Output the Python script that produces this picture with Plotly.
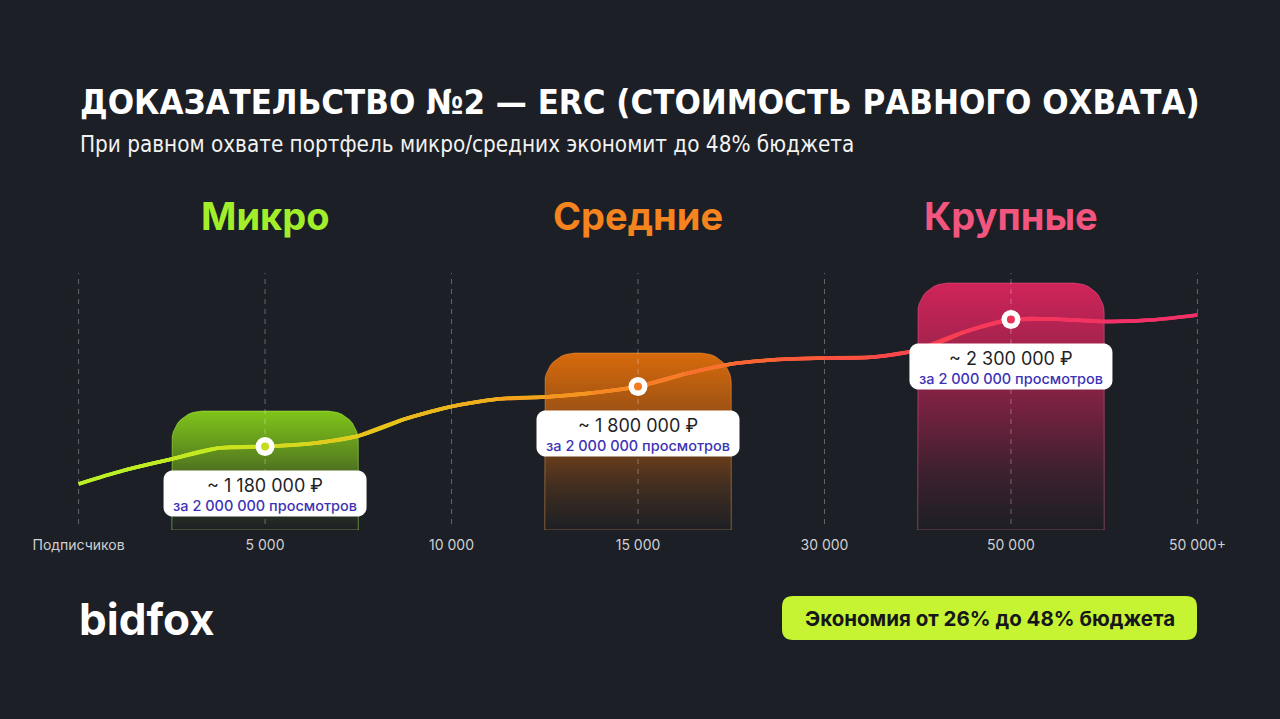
import math
import plotly.graph_objects as go

# ---------------- data ----------------
categories = ["Подписчиков", "5 000", "10 000", "15 000", "30 000", "50 000", "50 000+"]
cat_pos = [0, 1, 2, 3, 4, 5, 6]

# smooth cost curve, sampled at quarter steps between categories (relative level units)
line_x = [0, 0.25, 0.5, 0.75, 1, 1.25, 1.5, 1.75, 2, 2.25, 2.5, 2.75, 3,
          3.25, 3.5, 3.75, 4, 4.25, 4.5, 4.75, 5, 5.25, 5.5, 5.75, 6]
line_y = [46, 60, 71, 82, 83.5, 86.5, 94, 111, 123.5, 131, 133, 137, 143.5,
          156, 166, 170.5, 172, 172.7, 180, 198, 210.5, 210.7, 208.5, 210, 215]

groups = ["Микро", "Средние", "Крупные"]
group_x = [1, 3, 5]
group_level = [83.5, 143.5, 210.5]      # marker level on the curve
bar_top = [119, 177, 247]               # top of each highlighted column
cost_text = ["~ 1 180 000 ₽", "~ 1 800 000 ₽", "~ 2 300 000 ₽"]
views_text = ["за 2 000 000 просмотров"] * 3

title = "ДОКАЗАТЕЛЬСТВО №2 — ERC (СТОИМОСТЬ РАВНОГО ОХВАТА)"
subtitle = "При равном охвате портфель микро/средних экономит до 48% бюджета"
badge = "Экономия от 26% до 48% бюджета"
brand = "bidfox"

# ---------------- styles ----------------
BG = "#1c1f25"
group_colors = ["#a3ee2b", "#f5841f", "#f2557e"]
bar_rgb = [(128, 196, 26), (216, 106, 12), (208, 36, 90)]
dot_colors = ["#c5dc1e", "#f37c1f", "#ea3559"]
grad_stops = [(0.0, "#b5f52b"), (1.0, "#c8e61f"), (1.83, "#e8c41c"), (2.58, "#f3a41d"),
              (3.06, "#f68a22"), (4.03, "#fb5c38"), (5.0, "#f73a58"), (6.0, "#f0306a")]

W, H = 1280, 719
ML, MR, MT, MB = 4, 8, 270, 189
XR = [-0.4, 6.4]
YR = [0, 260]
PW = W - ML - MR
UX = PW / (XR[1] - XR[0])   # pixels per x unit


def hex2rgb(h):
    h = h.lstrip("#")
    return tuple(int(h[i:i + 2], 16) for i in (0, 2, 4))


def grad_color(x):
    for (x0, c0), (x1, c1) in zip(grad_stops[:-1], grad_stops[1:]):
        if x0 <= x <= x1:
            t = (x - x0) / (x1 - x0)
            a, b = hex2rgb(c0), hex2rgb(c1)
            return "rgb(%d,%d,%d)" % tuple(round(a[i] + (b[i] - a[i]) * t) for i in range(3))
    return grad_stops[-1][1]


def px(xp):
    return (xp - ML) / PW


def py(yp):
    return (H - MB - yp) / (H - MT - MB)


def rounded_path(xc, half_w, top, bottom, r_px, round_bottom=False):
    rx = r_px / UX
    ry = r_px
    xl, xr = xc - half_w, xc + half_w
    n = 10
    pts = []
    if round_bottom:
        for k in range(n + 1):
            a = 1.5 * math.pi - (math.pi / 2) * k / n
            pts.append((xl + rx + rx * math.cos(a), bottom + ry + ry * math.sin(a)))
    else:
        pts.append((xl, bottom))
    for k in range(n + 1):
        a = math.pi - (math.pi / 2) * k / n
        pts.append((xl + rx + rx * math.cos(a), top - ry + ry * math.sin(a)))
    for k in range(n + 1):
        a = math.pi / 2 - (math.pi / 2) * k / n
        pts.append((xr - rx + rx * math.cos(a), top - ry + ry * math.sin(a)))
    if round_bottom:
        for k in range(n + 1):
            a = 0 - (math.pi / 2) * k / n
            pts.append((xr - rx + rx * math.cos(a), bottom + ry + ry * math.sin(a)))
    else:
        pts.append((xr, bottom))
    pts.append(pts[0])
    return [p[0] for p in pts], [p[1] for p in pts]


fig = go.Figure()

# highlighted columns (gradient fading downward)
for i, xc in enumerate(group_x):
    bx, by = rounded_path(xc, 0.5, bar_top[i], 0, 30)
    r, g, b = bar_rgb[i]
    fig.add_trace(go.Scatter(
        x=bx, y=by, mode="lines", fill="toself",
        line=dict(color="rgba(%d,%d,%d,0.45)" % (min(r + 60, 255), min(g + 60, 255), min(b + 60, 255)), width=1),
        fillgradient=dict(type="vertical", colorscale=[
            [0.0, "rgba(%d,%d,%d,0.0)" % (r, g, b)],
            [0.25, "rgba(%d,%d,%d,0.2)" % (r, g, b)],
            [0.6, "rgba(%d,%d,%d,0.62)" % (r, g, b)],
            [1.0, "rgba(%d,%d,%d,1.0)" % (r, g, b)]]),
        hoverinfo="skip", showlegend=False))

# dashed category guides
for xc in cat_pos:
    fig.add_trace(go.Scatter(
        x=[xc, xc], y=[6, 257], mode="lines",
        line=dict(color="rgba(255,255,255,0.32)", width=1, dash="5px,5px"),
        hoverinfo="skip", showlegend=False))

# gradient cost curve: each short stretch is drawn with its neighbours so the spline stays smooth
n_pts = len(line_x)
for k in range(n_pts - 1):
    lo = max(0, k - 1)
    hi = min(n_pts, k + 3)
    xm = (line_x[k] + line_x[k + 1]) / 2
    fig.add_trace(go.Scatter(
        x=line_x[lo:hi], y=line_y[lo:hi],
        mode="lines", line=dict(color=grad_color(xm), width=3.5, shape="spline", smoothing=1),
        hoverinfo="skip", showlegend=False))

# markers
fig.add_trace(go.Scatter(
    x=group_x, y=group_level, mode="markers",
    marker=dict(size=19, color="white", line=dict(width=0)),
    hoverinfo="skip", showlegend=False))
fig.add_trace(go.Scatter(
    x=group_x, y=group_level, mode="markers",
    marker=dict(size=8, color=dot_colors, line=dict(width=0)),
    hoverinfo="skip", showlegend=False))

shapes = []
annotations = []

# value labels (white rounded boxes under each marker)
half_box = 101.5 / UX
for i, xc in enumerate(group_x):
    top = group_level[i] - 24
    bottom = top - 46
    bx, by = rounded_path(xc, half_box, top, bottom, 9, round_bottom=True)
    path = "M " + " L ".join("%.4f,%.3f" % (a, b) for a, b in zip(bx, by)) + " Z"
    shapes.append(dict(type="path", path=path, xref="x", yref="y",
                       fillcolor="white", line=dict(width=0), layer="above"))
    annotations.append(dict(x=xc, y=top - 15, xref="x", yref="y", text=cost_text[i],
                            showarrow=False, font=dict(family="Inter, Lato, sans-serif", size=18, color="#1f1f26"),
                            xanchor="center", yanchor="middle"))
    annotations.append(dict(x=xc, y=top - 35, xref="x", yref="y", text=views_text[i],
                            showarrow=False, font=dict(family="Inter, Lato, sans-serif", size=14.5, color="#3d33b5", weight=500),
                            xanchor="center", yanchor="middle"))
    # group headings
    annotations.append(dict(x=xc, y=py(216), xref="x", yref="paper", text=groups[i],
                            showarrow=False, font=dict(family="Inter, Lato, sans-serif", size=38, color=group_colors[i], weight=700),
                            xanchor="center", yanchor="middle"))

# title + subtitle
annotations.append(dict(x=px(78), y=py(102), xref="paper", yref="paper", text=title, showarrow=False,
                        xanchor="left", yanchor="middle",
                        font=dict(family="DejaVu Sans Condensed, Liberation Sans Narrow, sans-serif", size=34.5,
                                  color="white", weight=700)))
annotations.append(dict(x=px(78), y=py(144), xref="paper", yref="paper", text=subtitle, showarrow=False,
                        xanchor="left", yanchor="middle",
                        font=dict(family="DejaVu Sans Condensed, sans-serif", size=22.3,
                                  color="#f2f2f2")))

# brand
annotations.append(dict(x=px(77), y=py(619), xref="paper", yref="paper", text=brand, showarrow=False,
                        xanchor="left", yanchor="middle",
                        font=dict(family="Inter, Lato, sans-serif", size=44, color="white", weight=700)))

# savings badge
bx0, bx1, by0, by1 = 782, 1197, 596, 640
r = 11
badge_path = ("M %f,%f L %f,%f Q %f,%f %f,%f L %f,%f Q %f,%f %f,%f L %f,%f Q %f,%f %f,%f L %f,%f Q %f,%f %f,%f Z" % (
    px(bx0 + r), py(by0), px(bx1 - r), py(by0), px(bx1), py(by0), px(bx1), py(by0 + r),
    px(bx1), py(by1 - r), px(bx1), py(by1), px(bx1 - r), py(by1),
    px(bx0 + r), py(by1), px(bx0), py(by1), px(bx0), py(by1 - r),
    px(bx0), py(by0 + r), px(bx0), py(by0), px(bx0 + r), py(by0)))
shapes.append(dict(type="path", path=badge_path, xref="paper", yref="paper",
                   fillcolor="#c6f432", line=dict(width=0), layer="above"))
annotations.append(dict(x=px((bx0 + bx1) / 2), y=py((by0 + by1) / 2), xref="paper", yref="paper",
                        text=badge, showarrow=False, xanchor="center", yanchor="middle",
                        font=dict(family="Inter, Lato, sans-serif", size=20.5, color="#15171a", weight=700)))

fig.update_layout(
    width=W, height=H,
    margin=dict(l=ML, r=MR, t=MT, b=MB),
    paper_bgcolor=BG, plot_bgcolor=BG,
    shapes=shapes, annotations=annotations,
    showlegend=False,
    xaxis=dict(range=XR, tickmode="array", tickvals=cat_pos, ticktext=categories,
               showgrid=False, zeroline=False, showline=False, ticks="", ticklabelstandoff=5,
               tickfont=dict(family="Inter, Lato, sans-serif", size=14, color="#cfcfd3"), fixedrange=True),
    yaxis=dict(range=YR, visible=False, fixedrange=True),
)

fig.write_html("out.html", config={"displayModeBar": False},
               post_script="document.body.style.margin='0';document.body.style.padding='0';"
                           "document.body.style.background='%s';document.body.style.overflow='hidden';" % BG)
